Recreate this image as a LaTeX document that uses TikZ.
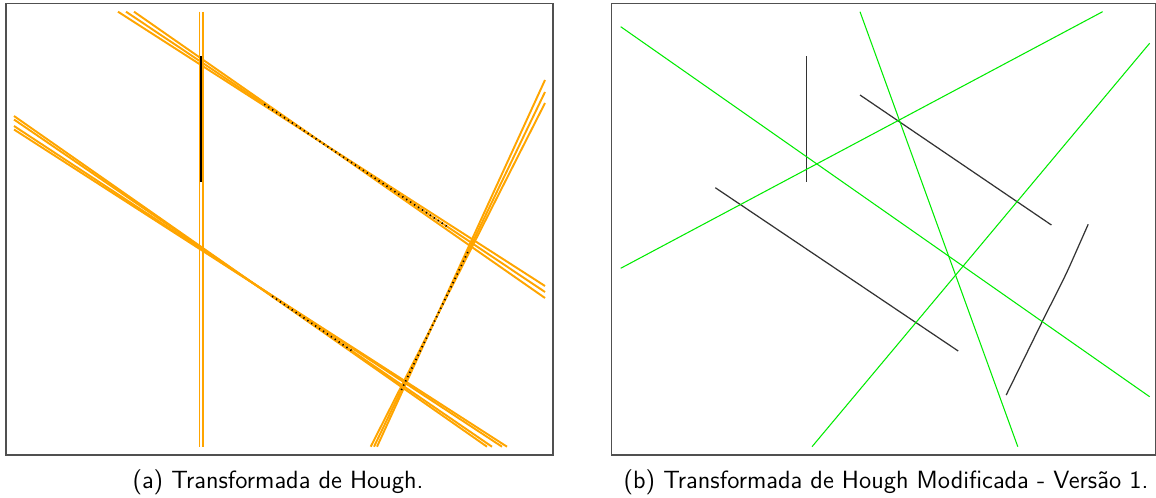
\documentclass[tikz,border=0pt]{standalone}
\usetikzlibrary{positioning,calc}
\definecolor{houghorange}{RGB}{255,165,0}
\definecolor{hitgreen}{RGB}{0,235,0}
\definecolor{framegray}{RGB}{80,80,80}
\tikzset{
  panel/.style={draw=framegray, line width=0.6pt},
  strand/.style={draw=houghorange, line width=1.1pt},
  votes/.style={draw=black, line width=1pt, dash pattern=on 0.7pt off 2pt},
  found/.style={draw=hitgreen, line width=0.6pt},
  segment/.style={draw=black!80, line width=0.7pt},
  caption/.style={font=\sffamily\fontsize{14.2}{17}\selectfont, inner sep=0pt}
}
\begin{document}
\begin{tikzpicture}[x=0.02cm, y=-0.02cm, line cap=butt]
    \useasboundingbox (0,0) rectangle (1156,497);

    % left panel: Hough transform
    \draw[panel] (6,3.5) rectangle (553,455);

    \coordinate (V1a) at (199.5,11.7);  \coordinate (V1b) at (199.5,446.7);
    \coordinate (V2a) at (203,11.7);    \coordinate (V2b) at (203,446.7);

    \coordinate (U1a) at (118,11.7);    \coordinate (U1b) at (545,286);
    \coordinate (U2a) at (126,11.7);    \coordinate (U2b) at (545,292);
    \coordinate (U3a) at (134,11.7);    \coordinate (U3b) at (545,298);

    \coordinate (L1a) at (14,116);      \coordinate (L1b) at (487,446.7);
    \coordinate (L2a) at (14,119.5);    \coordinate (L2b) at (492,446.7);
    \coordinate (L3a) at (14,126);      \coordinate (L3b) at (502,446.7);
    \coordinate (L4a) at (14,129.5);    \coordinate (L4b) at (507,446.7);

    \coordinate (S1a) at (377,446.7);   \coordinate (S1b) at (545,80);
    \coordinate (S2a) at (374,446.7);   \coordinate (S2b) at (545,92);
    \coordinate (S3a) at (370.7,446.7); \coordinate (S3b) at (545,103);

    \draw[strand, line width=0.9pt] (V1a) -- (V1b);
    \draw[strand, line width=0.9pt] (V2a) -- (V2b);
    \draw[strand] (U1a) -- (U1b);
    \draw[strand] (U2a) -- (U2b);
    \draw[strand] (U3a) -- (U3b);
    \draw[strand] (L1a) -- (L1b);
    \draw[strand] (L2a) -- (L2b);
    \draw[strand] (L3a) -- (L3b);
    \draw[strand] (L4a) -- (L4b);
    \draw[strand] (S1a) -- (S1b);
    \draw[strand] (S2a) -- (S2b);
    \draw[strand] (S3a) -- (S3b);

    % points of the image lying on the lines
    \coordinate (Ka) at (201.2,56);     \coordinate (Kb) at (201.2,182);
    \draw[black, line width=1.2pt] (Ka) -- (Kb);
    \draw[votes] ($(U2a)!0.33!(U2b)$) -- ($(U2a)!0.77!(U2b)$);
    \draw[votes] ($(L2a)!0.54!(L2b)$) -- ($(L2a)!0.71!(L2b)$);
    \draw[votes] ($(S2a)!0.16!(S2b)$) -- ($(S2a)!0.55!(S2b)$);

    % right panel: modified Hough transform
    \draw[panel] (611.5,3.5) rectangle (1155.6,455);

    \coordinate (G1a) at (620.7,26.7);  \coordinate (G1b) at (1149.6,396.7);
    \coordinate (G2a) at (620.7,268.3); \coordinate (G2b) at (1102.6,11.7);
    \coordinate (G3a) at (860,11.7);    \coordinate (G3b) at (1017.8,446.7);
    \coordinate (G4a) at (812,446.7);   \coordinate (G4b) at (1149.6,43.3);

    \coordinate (B1a) at (806.6,56);    \coordinate (B1b) at (806.6,182.3);
    \coordinate (B2a) at (860,95);      \coordinate (B2b) at (1051.4,225);
    \coordinate (B3a) at (715.3,187.7); \coordinate (B3b) at (958.2,351);
    \coordinate (B4a) at (1088.2,224.3);\coordinate (B4b) at (1006.2,395);
    \coordinate (B4m) at (1066.5,273.3);\coordinate (B4n) at (1043,320);
    \coordinate (B4o) at (1025,356.7);

    \draw[segment] (B1a) -- (B1b);
    \draw[segment] (B2a) -- (B2b);
    \draw[segment] (B3a) -- (B3b);
    \draw[segment, rounded corners=6pt] (B4a) -- (B4m) -- (B4n) -- (B4o) -- (B4b);

    \draw[found] (G1a) -- (G1b);
    \draw[found] (G2a) -- (G2b);
    \draw[found] (G3a) -- (G3b);
    \draw[found] (G4a) -- (G4b);

    \node[caption] (capA) at (278,482) {(a) Transformada de Hough.};
    \node[caption] (capB) at (886,482) {(b) Transformada de Hough Modificada - Versão 1.};
  \end{tikzpicture}
\end{document}
